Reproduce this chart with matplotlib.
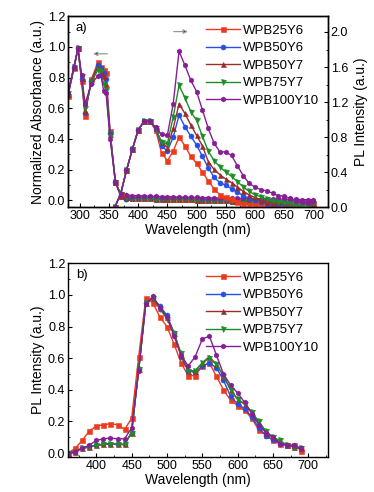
import numpy as np
import matplotlib.pyplot as plt
import matplotlib as mpl
from matplotlib.ticker import MultipleLocator

mpl.rcParams.update({"font.family": ["Liberation Sans", "DejaVu Sans"], "font.size": 9,
                     "xtick.direction": "in", "ytick.direction": "in",
                     "axes.linewidth": 1.0})

names = ["WPB25Y6", "WPB50Y6", "WPB50Y7", "WPB75Y7", "WPB100Y10"]
colors = ["#ee3a1c", "#2350e6", "#9a2c2c", "#1e8c28", "#861e96"]
markers = ["s", "o", "^", "v", "h"]

# ---- a) absorbance (left axis) ----
abs_x = [280, 290, 297, 303, 309, 320, 331, 336, 341, 345, 352, 361, 370, 380]
abs_y = {
    "WPB25Y6":   [0.68, 0.86, 0.99, 0.78, 0.55, 0.79, 0.90, 0.87, 0.85, 0.83, 0.45, 0.12, 0.03, 0.02],
    "WPB50Y6":   [0.69, 0.86, 0.99, 0.79, 0.57, 0.78, 0.88, 0.86, 0.83, 0.79, 0.44, 0.12, 0.03, 0.01],
    "WPB50Y7":   [0.69, 0.87, 0.99, 0.80, 0.58, 0.78, 0.87, 0.85, 0.81, 0.76, 0.43, 0.12, 0.03, 0.02],
    "WPB75Y7":   [0.70, 0.87, 0.99, 0.81, 0.60, 0.77, 0.85, 0.84, 0.76, 0.72, 0.42, 0.12, 0.04, 0.02],
    "WPB100Y10": [0.70, 0.87, 0.99, 0.82, 0.63, 0.76, 0.81, 0.82, 0.71, 0.70, 0.40, 0.12, 0.04, 0.035],
}
tail_x = list(range(390, 710, 10))
tail_purple = [0.03, 0.03, 0.028, 0.027, 0.025, 0.024, 0.023, 0.022, 0.02, 0.02, 0.019, 0.018,
               0.017, 0.016, 0.015, 0.015, 0.014, 0.013, 0.012, 0.012, 0.011, 0.01, 0.01, 0.009,
               0.008, 0.008, 0.007, 0.006, 0.005, 0.004, 0.003, 0.002]
tail_other = [0.015, 0.014, 0.013, 0.012, 0.011, 0.01, 0.009, 0.008, 0.007, 0.006, 0.005, 0.004,
              0.003, 0.002, 0.001, 0.0, -0.001, -0.002, -0.003, -0.004, -0.005, -0.006, -0.007,
              -0.008, -0.009, -0.01, -0.011, -0.012, -0.013, -0.014, -0.015, -0.016]

# ---- a) PL (right axis) ----
pl_x = list(range(360, 710, 10))
pl_a = {
    "WPB25Y6":   [0.0, 0.15, 0.42, 0.66, 0.88, 0.98, 0.98, 0.88, 0.62, 0.53, 0.64, 0.80, 0.70, 0.58,
                  0.50, 0.40, 0.30, 0.21, 0.14, 0.11, 0.09, 0.06, 0.04, 0.03, 0.02, 0.01, 0.0,
                  -0.01, -0.02, -0.03],
    "WPB50Y6":   [0.0, 0.15, 0.42, 0.66, 0.88, 0.98, 0.98, 0.89, 0.70, 0.64, 0.80, 1.05, 0.92, 0.81,
                  0.71, 0.58, 0.45, 0.34, 0.28, 0.25, 0.21, 0.17, 0.13, 0.10, 0.08, 0.06, 0.04,
                  0.03, 0.02, 0.01, 0.0, -0.01],
    "WPB50Y7":   [0.0, 0.15, 0.42, 0.66, 0.88, 0.98, 0.98, 0.90, 0.74, 0.68, 0.90, 1.18, 1.07, 0.94,
                  0.82, 0.70, 0.52, 0.43, 0.37, 0.32, 0.28, 0.23, 0.18, 0.14, 0.11, 0.08, 0.06,
                  0.05, 0.04, 0.03, 0.02, 0.01, 0.0, -0.01],
    "WPB75Y7":   [0.0, 0.15, 0.42, 0.66, 0.88, 0.98, 0.98, 0.90, 0.74, 0.72, 1.03, 1.39, 1.25, 1.09,
                  0.99, 0.81, 0.64, 0.53, 0.46, 0.40, 0.35, 0.29, 0.23, 0.18, 0.14, 0.12, 0.09,
                  0.07, 0.06, 0.05, 0.04, 0.02, 0.01, 0.0],
    "WPB100Y10": [0.0, 0.15, 0.42, 0.66, 0.88, 0.98, 0.98, 0.91, 0.83, 0.82, 1.18, 1.78, 1.62, 1.45,
                  1.32, 1.11, 0.90, 0.73, 0.63, 0.63, 0.59, 0.47, 0.36, 0.27, 0.23, 0.20, 0.185,
                  0.16, 0.13, 0.125, 0.10, 0.075, 0.06, 0.045, 0.07],
}

# ---- b) PL normalised ----
pl_bx = list(range(360, 700, 10))
pl_b = {
    "WPB25Y6":   [0.0, 0.03, 0.08, 0.14, 0.17, 0.18, 0.185, 0.18, 0.15, 0.22, 0.61, 0.98, 0.95,
                  0.86, 0.80, 0.69, 0.57, 0.49, 0.49, 0.55, 0.57, 0.485, 0.40, 0.335, 0.30, 0.27,
                  0.22, 0.145, 0.115, 0.08, 0.06, 0.05, 0.05, 0.015],
    "WPB50Y6":   [0.0, 0.01, 0.03, 0.04, 0.05, 0.055, 0.06, 0.055, 0.055, 0.13, 0.53, 0.95, 0.98,
                  0.93, 0.87, 0.76, 0.61, 0.52, 0.51, 0.55, 0.57, 0.54, 0.46, 0.36, 0.31, 0.28,
                  0.23, 0.16, 0.11, 0.085, 0.06, 0.05, 0.04, 0.03],
    "WPB50Y7":   [0.0, 0.01, 0.03, 0.04, 0.05, 0.055, 0.06, 0.055, 0.055, 0.13, 0.53, 0.95, 0.98,
                  0.92, 0.86, 0.76, 0.62, 0.52, 0.52, 0.57, 0.61, 0.56, 0.49, 0.40, 0.34, 0.31,
                  0.26, 0.19, 0.13, 0.10, 0.07, 0.05, 0.04, 0.03],
    "WPB75Y7":   [0.0, 0.01, 0.03, 0.04, 0.05, 0.055, 0.06, 0.055, 0.055, 0.13, 0.53, 0.95, 0.98,
                  0.91, 0.85, 0.76, 0.63, 0.52, 0.52, 0.57, 0.60, 0.56, 0.49, 0.40, 0.34, 0.31,
                  0.26, 0.20, 0.14, 0.10, 0.08, 0.05, 0.04, 0.03],
    "WPB100Y10": [0.0, 0.01, 0.03, 0.05, 0.08, 0.09, 0.095, 0.09, 0.09, 0.16, 0.52, 0.94, 0.99,
                  0.92, 0.86, 0.74, 0.62, 0.55, 0.61, 0.72, 0.74, 0.62, 0.50, 0.43, 0.38, 0.32,
                  0.25, 0.18, 0.13, 0.10, 0.06, 0.05, 0.05, 0.03],
}

fig = plt.figure(figsize=(3.74, 4.92), dpi=100)
ax1 = fig.add_axes([0.182, 0.579, 0.695, 0.388])
ax2 = ax1.twinx()
ax3 = fig.add_axes([0.182, 0.071, 0.695, 0.394])

mk = dict(ms=3.6, lw=1.0, mew=0.4)
for n, c, m in zip(names, colors, markers):
    ax1.plot(abs_x, abs_y[n], color=c, marker=m, **mk)
    tail = tail_purple if n == "WPB100Y10" else tail_other
    ax1.plot([abs_x[-1]] + tail_x, [abs_y[n][-1]] + tail, color=c, marker=m, **mk)
    ax2.plot(pl_x[:len(pl_a[n])], pl_a[n], color=c, marker=m, label=n, **mk)
    ax3.plot(pl_bx, pl_b[n], color=c, marker=m, label=n, **mk)

ax1.set_xlim(280, 725)
ax1.set_ylim(-0.045, 1.2)
ax2.set_ylim(0.0, 2.18)
ax1.xaxis.set_major_locator(MultipleLocator(50))
ax1.xaxis.set_minor_locator(MultipleLocator(25))
ax1.yaxis.set_major_locator(MultipleLocator(0.2))
ax1.yaxis.set_minor_locator(MultipleLocator(0.1))
ax2.yaxis.set_major_locator(MultipleLocator(0.4))
ax2.yaxis.set_minor_locator(MultipleLocator(0.2))
ax1.yaxis.set_major_formatter(mpl.ticker.FormatStrFormatter("%.1f"))
ax2.yaxis.set_major_formatter(mpl.ticker.FormatStrFormatter("%.1f"))
ax1.set_xlabel("Wavelength (nm)", fontsize=10, labelpad=1)
ax1.set_ylabel("Normalized Absorbance (a.u.)", fontsize=10, labelpad=2)
ax2.set_ylabel("PL Intensity (a.u.)", fontsize=10, labelpad=4)
ax1.text(0.03, 0.97, "a)", transform=ax1.transAxes, ha="left", va="top", fontsize=9.5)
ax1.annotate("", xy=(318, 0.955), xytext=(352, 0.955),
             arrowprops=dict(arrowstyle="-|>", color="#999999", lw=0.9, mutation_scale=6,
                             fc="black"))
ax1.annotate("", xy=(490, 1.10), xytext=(456, 1.10),
             arrowprops=dict(arrowstyle="-|>", color="#999999", lw=0.9, mutation_scale=6,
                             fc="black"))
ax2.legend(loc="upper right", bbox_to_anchor=(1.0, 1.005), frameon=False, fontsize=9.5,
           handlelength=2.6, handletextpad=0.2, labelspacing=0.4, borderaxespad=0.3)

ax3.set_xlim(360, 728)
ax3.set_ylim(-0.025, 1.2)
ax3.xaxis.set_major_locator(MultipleLocator(50))
ax3.xaxis.set_minor_locator(MultipleLocator(25))
ax3.yaxis.set_major_locator(MultipleLocator(0.2))
ax3.yaxis.set_minor_locator(MultipleLocator(0.1))
ax3.yaxis.set_major_formatter(mpl.ticker.FormatStrFormatter("%.1f"))
ax3.set_xlabel("Wavelength (nm)", fontsize=10, labelpad=1)
ax3.set_ylabel("PL Intensity (a.u.)", fontsize=10, labelpad=2)
ax3.text(0.03, 0.97, "b)", transform=ax3.transAxes, ha="left", va="top", fontsize=9.5)
ax3.legend(loc="upper right", bbox_to_anchor=(1.0, 1.005), frameon=False, fontsize=9.5,
           handlelength=2.6, handletextpad=0.2, labelspacing=0.4, borderaxespad=0.3)

for ax in (ax1, ax2, ax3):
    ax.tick_params(labelsize=9, length=3, pad=2)
    ax.tick_params(which="minor", length=1.5)

fig.savefig("out.png", dpi=100)
